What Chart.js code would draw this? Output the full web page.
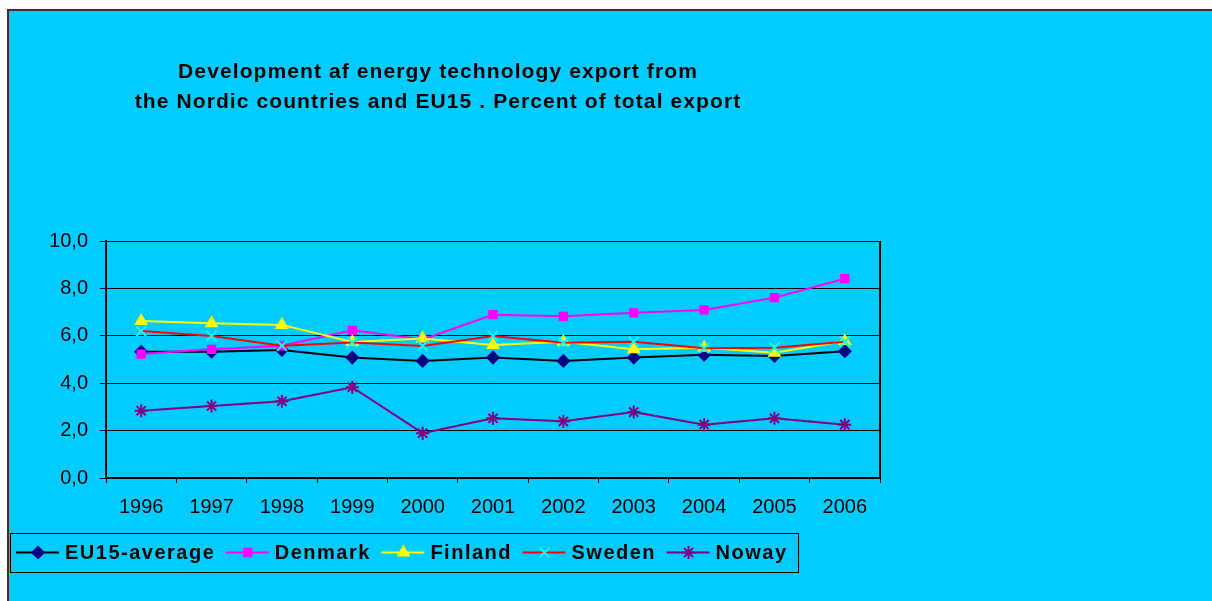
<!DOCTYPE html>
<html lang="en">

<head>
  <meta charset="UTF-8">
  <title>Energy technology export</title>
  <script src="https://cdn.jsdelivr.net/npm/chart.js"></script>
  <style>
    html, body {
      margin: 0;
      padding: 0;
      background: #ffffff;
    }
  </style>
</head>

<body>
  <canvas id="exportChart" width="1212" height="601"></canvas>
  <script>
    const years = ['1996', '1997', '1998', '1999', '2000', '2001', '2002', '2003', '2004', '2005', '2006'];

    const eu15Average = [5.33, 5.33, 5.40, 5.08, 4.94, 5.08, 4.94, 5.08, 5.20, 5.15, 5.35];
    const denmark = [5.23, 5.43, 5.58, 6.23, 5.85, 6.89, 6.82, 6.97, 7.09, 7.61, 8.41];
    const finland = [6.62, 6.53, 6.46, 5.74, 5.89, 5.61, 5.75, 5.43, 5.50, 5.29, 5.78];
    const sweden = [6.20, 5.99, 5.58, 5.72, 5.57, 5.99, 5.71, 5.75, 5.47, 5.50, 5.75];
    const noway = [2.84, 3.04, 3.24, 3.83, 1.89, 2.52, 2.39, 2.78, 2.25, 2.52, 2.25];

    const titleLines = [
      'Development af energy technology export from',
      'the Nordic countries and EU15 . Percent of total export'
    ];

    const font = '"Liberation Sans", Arial, sans-serif';

    // background, outer frame, title, plot border and the legend (line + marker like Excel)
    const decorations = {
      id: 'decorations',
      beforeDraw(chart) {
        const ctx = chart.ctx;
        ctx.save();
        ctx.fillStyle = '#ffffff';
        ctx.fillRect(0, 0, chart.width, chart.height);
        ctx.fillStyle = '#00ccff';
        ctx.fillRect(8, 10, chart.width, chart.height);
        ctx.strokeStyle = '#333333';
        ctx.lineWidth = 2;
        ctx.beginPath();
        ctx.moveTo(8, chart.height);
        ctx.lineTo(8, 10);
        ctx.lineTo(chart.width, 10);
        ctx.stroke();

        ctx.fillStyle = '#000000';
        ctx.font = 'bold 21px ' + font;
        ctx.letterSpacing = '1.1px';
        ctx.textAlign = 'center';
        ctx.textBaseline = 'middle';
        ctx.fillText(titleLines[0], 438, 72);
        ctx.fillText(titleLines[1], 438, 102);
        ctx.restore();
      },
      beforeDatasetsDraw(chart) {
        const { ctx, chartArea } = chart;
        ctx.save();
        ctx.strokeStyle = '#000000';
        ctx.lineWidth = 2;
        ctx.beginPath();
        ctx.moveTo(chartArea.right, chartArea.top);
        ctx.lineTo(chartArea.right, chartArea.bottom);
        ctx.stroke();
        ctx.restore();
      },
      afterDraw(chart) {
        const ctx = chart.ctx;
        ctx.save();
        ctx.font = 'bold 20px ' + font;
        ctx.letterSpacing = '1.5px';
        ctx.textBaseline = 'middle';
        ctx.textAlign = 'left';
        const top = 533, h = 39, cy = top + h / 2;
        let x = 16;
        chart.data.datasets.forEach((ds) => {
          ctx.strokeStyle = ds.borderColor;
          ctx.lineWidth = 2;
          ctx.beginPath();
          ctx.moveTo(x, cy);
          ctx.lineTo(x + 43, cy);
          ctx.stroke();
          ctx.fillStyle = ds.pointBackgroundColor;
          ctx.strokeStyle = ds.pointBorderColor;
          ctx.lineWidth = ds.pointBorderWidth;
          Chart.helpers.drawPoint(ctx, {
            pointStyle: ds.pointStyle,
            radius: ds.pointRadius,
            rotation: 0,
            borderWidth: ds.pointBorderWidth
          }, x + 22, cy);
          ctx.fillStyle = '#000000';
          ctx.fillText(ds.label, x + 49, cy + 1);
          x += 49 + ctx.measureText(ds.label).width + 10.5;
        });
        ctx.strokeStyle = '#000000';
        ctx.lineWidth = 1;
        ctx.strokeRect(10.5, top + 0.5, x - 10, h);
        ctx.restore();
      }
    };

    function series(label, data, line, marker, style, radius, width, order) {
      return {
        label: label,
        data: data,
        borderColor: line,
        borderWidth: 2,
        pointStyle: style,
        pointRadius: radius,
        pointHoverRadius: radius,
        pointBackgroundColor: marker,
        pointBorderColor: marker,
        pointBorderWidth: width,
        tension: 0,
        order: order
      };
    }

    new Chart(document.getElementById('exportChart'), {
      type: 'line',
      data: {
        labels: years,
        datasets: [
          series('EU15-average', eu15Average, '#000000', '#000080', 'rectRot', 6, 1.5, 5),
          series('Denmark', denmark, '#ff00ff', '#ff00ff', 'rect', 5.5, 1.5, 4),
          series('Finland', finland, '#ffff00', '#ffff00', 'triangle', 6.5, 1.5, 3),
          series('Sweden', sweden, '#ff0000', '#00ffff', 'crossRot', 7, 2, 2),
          series('Noway', noway, '#800080', '#800080', 'star', 6.5, 2, 1)
        ]
      },
      options: {
        responsive: false,
        animation: false,
        layout: {
          padding: { left: 20, top: 241, right: 332, bottom: 83 }
        },
        plugins: {
          legend: { display: false },
          title: { display: false },
          tooltip: { enabled: false }
        },
        scales: {
          x: {
            offset: true,
            afterFit(scale) { scale.height = 40; },
            grid: {
              offset: true,
              drawOnChartArea: false,
              drawTicks: true,
              tickLength: 5,
              color: '#000000'
            },
            border: { display: true, color: '#000000', width: 2 },
            ticks: {
              color: '#000000',
              font: { family: font, size: 20 },
              padding: 12,
              maxRotation: 0
            }
          },
          y: {
            min: 0,
            max: 10,
            afterFit(scale) { scale.width = 86; },
            grid: {
              color: '#000000',
              lineWidth: 1,
              tickLength: 6
            },
            border: { display: true, color: '#000000', width: 2 },
            ticks: {
              stepSize: 2,
              color: '#000000',
              font: { family: font, size: 20 },
              padding: 12,
              callback: (v) => v.toFixed(1).replace('.', ',')
            }
          }
        }
      },
      plugins: [decorations]
    });
  </script>
</body>

</html>
